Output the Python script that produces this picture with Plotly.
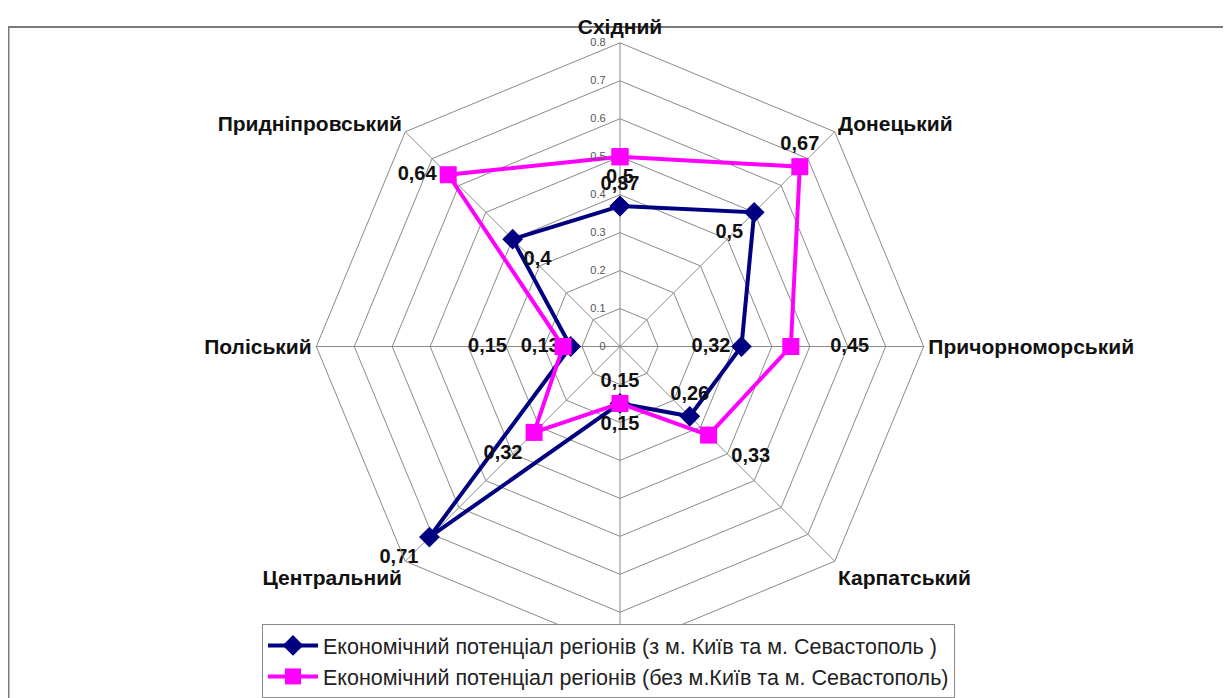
import plotly.graph_objects as go

categories = ["Східний", "Донецький", "Причорноморський", "Карпатський",
              "Подільський", "Центральний", "Поліський", "Придніпровський"]
# the bottom category label is hidden behind the legend in the reference
shown_labels = ["Східний", "Донецький", "Причорноморський", "Карпатський",
                "", "Центральний", "Поліський", "Придніпровський"]
with_kyiv = [0.37, 0.50, 0.32, 0.26, 0.15, 0.71, 0.13, 0.40]
without_kyiv = [0.50, 0.67, 0.45, 0.33, 0.15, 0.32, 0.15, 0.64]
series_names = ["Економічний потенціал регіонів (з м. Київ та м. Севастополь )",
                "Економічний потенціал регіонів (без м.Київ та м. Севастополь)"]
radial_ticks = [0, 0.1, 0.2, 0.3, 0.4, 0.5, 0.6, 0.7, 0.8]

pos_blue = ["top center", "bottom left", "middle left", "top center",
            "top center", "bottom left", "middle left", "bottom right"]
pos_pink = ["bottom center", "top center", "middle right", "bottom right",
            "bottom center", "bottom left", "middle left", "middle left"]
# extra label padding (non-breaking spaces) to push labels away from markers
pad_blue = ["", "", "", "", "", "", "", ""]
pad_pink = ["", "", "lead5", "lead2", "", "", "trail8", ""]

NB = "\u00a0"

def fmt(v, pad=""):
    s = ("%g" % v).replace(".", ",")
    if pad.startswith("lead"):
        s = NB * int(pad[4:]) + s
    elif pad.startswith("trail"):
        s = s + NB * int(pad[5:])
    return s

# figure is offset by the 8px page margin
W, H = 1223, 690
cx, cy, Rd = 612, 340, 305

fig = go.Figure()
fig.add_trace(go.Scatterpolar(
    r=with_kyiv + with_kyiv[:1], theta=categories + categories[:1],
    mode="lines+markers+text", name=series_names[0],
    line=dict(color="#000080", width=4),
    marker=dict(symbol="diamond", size=16, color="#000080"),
    text=[fmt(v, p) for v, p in zip(with_kyiv, pad_blue)] + [""],
    textposition=pos_blue + ["top center"],
    textfont=dict(family="Liberation Sans", size=20, color="#111", weight="bold"),
))
fig.add_trace(go.Scatterpolar(
    r=without_kyiv + without_kyiv[:1], theta=categories + categories[:1],
    mode="lines+markers+text", name=series_names[1],
    line=dict(color="#ff00ff", width=4),
    marker=dict(symbol="square", size=17, color="#ff00ff"),
    text=[fmt(v, p) for v, p in zip(without_kyiv, pad_pink)] + [""],
    textposition=pos_pink + ["top center"],
    textfont=dict(family="Liberation Sans", size=20, color="#111", weight="bold"),
))

fig.update_layout(
    width=W, height=H,
    margin=dict(l=0, r=0, t=0, b=0),
    paper_bgcolor="white",
    font=dict(family="Liberation Sans"),
    polar=dict(
        domain=dict(x=[(cx - Rd) / W, (cx + Rd) / W],
                    y=[1 - (cy + Rd) / H, 1 - (cy - Rd) / H]),
        bgcolor="white",
        gridshape="linear",
        radialaxis=dict(range=[0, 0.8], tickvals=radial_ticks,
                        ticktext=["%g" % t + NB * 4 for t in radial_ticks],
                        angle=90, tickangle=90, side="counterclockwise",
                        showline=False, ticks="",
                        gridcolor="#8a8a8a", gridwidth=1,
                        tickfont=dict(size=11, color="#555")),
        angularaxis=dict(direction="clockwise", rotation=90,
                         tickmode="array", tickvals=categories,
                         ticktext=shown_labels,
                         gridcolor="#8a8a8a", gridwidth=1,
                         linecolor="#8a8a8a", linewidth=1, ticks="",
                         tickfont=dict(size=21, color="#111", weight="bold")),
    ),
    showlegend=True,
    legend=dict(x=254 / W, y=1 - 619 / H, xanchor="left", yanchor="top",
                bgcolor="white", bordercolor="#8a8a8a", borderwidth=1,
                font=dict(family="Liberation Sans", size=21.5, color="#222"),
                itemwidth=50),
    shapes=[dict(type="rect", xref="paper", yref="paper",
                 x0=0.5 / W, x1=1.05, y0=-0.1, y1=1 - 19 / H,
                 line=dict(color="#7a7a7a", width=2), layer="below")],
)

fig.write_html("out.html")
